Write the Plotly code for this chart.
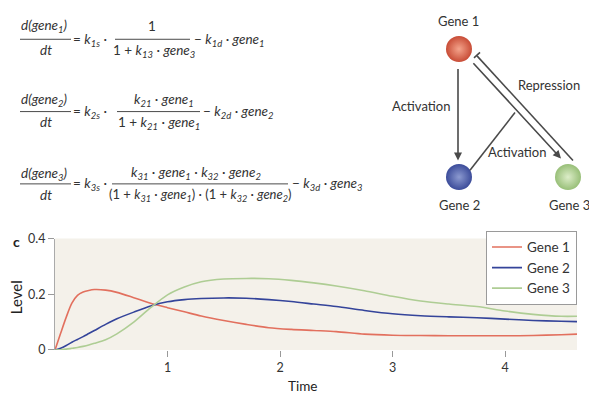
import plotly.graph_objects as go

# ---------------- data ----------------
time = [0, 0.05, 0.1, 0.15, 0.2, 0.25, 0.3, 0.35, 0.45, 0.55, 0.7, 0.85, 1.0, 1.15,
        1.3, 1.5, 1.7, 1.9, 2.1, 2.3, 2.5, 2.75, 3.0, 3.25, 3.5, 3.75, 4.0, 4.25, 4.5, 4.64]
gene1 = [0, 0.06, 0.118, 0.168, 0.196, 0.208, 0.214, 0.217, 0.215, 0.207, 0.188, 0.168,
         0.152, 0.137, 0.122, 0.106, 0.092, 0.080, 0.074, 0.070, 0.066, 0.057, 0.053,
         0.052, 0.051, 0.051, 0.051, 0.052, 0.055, 0.057]
gene2 = [0, 0.006, 0.016, 0.028, 0.038, 0.048, 0.059, 0.070, 0.092, 0.112, 0.136, 0.158,
         0.173, 0.181, 0.185, 0.187, 0.186, 0.181, 0.174, 0.165, 0.156, 0.142, 0.130,
         0.123, 0.119, 0.116, 0.111, 0.106, 0.103, 0.102]
gene3 = [0, 0.001, 0.003, 0.006, 0.009, 0.013, 0.018, 0.024, 0.037, 0.058, 0.100, 0.152,
         0.198, 0.226, 0.245, 0.255, 0.257, 0.256, 0.250, 0.241, 0.230, 0.213, 0.193,
         0.176, 0.165, 0.156, 0.140, 0.128, 0.121, 0.121]
series_names = ["Gene 1", "Gene 2", "Gene 3"]
series_colors = ["#e2705e", "#34449a", "#aecd94"]
x_ticks = [1, 2, 3, 4]
y_ticks = [0, 0.2, 0.4]
y_ticktext = ["0", "0.2", "0.4"]

# diagram nodes (pixel layout of the schematic)
node_names = ["Gene 1", "Gene 2", "Gene 3"]
node_x = [459, 459, 568]
node_y = [42, 173, 173]
node_edge = ["#c84c36", "#3c4c9a", "#98bf78"]
node_core = ["#f4a48c", "#8c9ad0", "#dcedc8"]

FONT = "Lato"
TXT = "#333333"
LINE = "#4a4a4a"
W, H = 577, 350   # plot-area pixel size (margins l=0, t=0)
EQ = 13.5

fig = go.Figure()
for name, ys, col in zip(series_names, [gene1, gene2, gene3], series_colors):
    fig.add_trace(go.Scatter(x=time, y=ys, name=name, mode="lines",
                             line=dict(color=col, width=1.6, shape="spline", smoothing=0.8),
                             xaxis="x", yaxis="y"))

fig.add_trace(go.Scatter(x=node_x, y=node_y, mode="markers", showlegend=False,
                         hoverinfo="skip", xaxis="x2", yaxis="y2", cliponaxis=False,
                         marker=dict(size=26, color=node_edge,
                                     gradient=dict(type="radial", color=node_core),
                                     line=dict(width=0))))

annotations = []
shapes = []


def txt(s, x, y, anchor="center", size=EQ, color=TXT, **kw):
    annotations.append(dict(text=s, x=x, y=y, xref="x2", yref="y2", showarrow=False,
                            xanchor=anchor, yanchor="middle",
                            font=dict(family=FONT, size=size, color=color), **kw))


def hline(x0, x1, y, w=1):
    shapes.append(dict(type="line", xref="x2", yref="y2", x0=x0, x1=x1, y0=y, y1=y,
                       line=dict(color=LINE, width=w)))


def seg(x0, y0, x1, y1, w=1.6):
    shapes.append(dict(type="line", xref="x2", yref="y2", x0=x0, x1=x1, y0=y0, y1=y1,
                       line=dict(color=LINE, width=w)))


def arrow(x0, y0, x1, y1):
    annotations.append(dict(text="", x=x1, y=y1, ax=x0, ay=y0, xref="x2", yref="y2",
                            axref="x2", ayref="y2", showarrow=True, arrowhead=2,
                            arrowsize=1, arrowwidth=1.6, arrowcolor=LINE,
                            standoff=0, startstandoff=0))


# ---------------- equations ----------------
# eq 1
txt("<i>d(gene<sub>1</sub>)</i>", 44, 18)
hline(20, 71, 32)
txt("<i>dt</i>", 46, 43)
txt("= <i>k<sub>1s</sub></i> ·", 71, 33, anchor="left")
txt("1", 152, 18)
hline(115, 190, 32)
txt("1 + <i>k<sub>13</sub></i> · <i>gene<sub>3</sub></i>", 154, 44)
txt("− <i>k<sub>1d</sub></i> · <i>gene<sub>1</sub></i>", 192, 33, anchor="left")
# eq 2
txt("<i>d(gene<sub>2</sub>)</i>", 44, 94)
hline(20, 71, 106)
txt("<i>dt</i>", 46, 117)
txt("= <i>k<sub>2s</sub></i> ·", 71, 106, anchor="left")
txt("<i>k<sub>21</sub></i> · <i>gene<sub>1</sub></i>", 164, 94)
hline(117, 200, 106)
txt("1 + <i>k<sub>21</sub></i> · <i>gene<sub>1</sub></i>", 159, 118)
txt("− <i>k<sub>2d</sub></i> · <i>gene<sub>2</sub></i>", 201, 106, anchor="left")
# eq 3
txt("<i>d(gene<sub>3</sub>)</i>", 44, 170)
hline(20, 71, 180)
txt("<i>dt</i>", 46, 191)
txt("= <i>k<sub>3s</sub></i> ·", 71, 180, anchor="left")
txt("<i>k<sub>31</sub></i> · <i>gene<sub>1</sub></i> · <i>k<sub>32</sub></i> · <i>gene<sub>2</sub></i>",
    196, 169)
hline(112, 288, 180)
txt("(1 + <i>k<sub>31</sub></i> · <i>gene<sub>1</sub></i>) · (1 + <i>k<sub>32</sub></i> · <i>gene<sub>2</sub></i>)",
    200, 191, size=13)
txt("− <i>k<sub>3d</sub></i> · <i>gene<sub>3</sub></i>", 290, 180, anchor="left")

# ---------------- network diagram ----------------
txt("Gene 1", 458, 13, size=13)
txt("Gene 2", 459, 202, size=13)
txt("Gene 3", 569, 202, size=13)
txt("Activation", 421, 100, size=13)
txt("Repression", 549, 79, size=13)
txt("Activation", 517, 147, size=13)
arrow(458, 61, 458, 156)          # gene1 -> gene2
arrow(472, 55, 561, 154)          # gene1 -> gene3
seg(573, 156, 477, 49)            # repression gene3 -| gene1
seg(474, 51, 480, 45.5)           # T-bar
seg(470, 166, 515, 107)           # gene2 activation of the gene1->gene3 link

# ---------------- chart labels ----------------
txt("<b>c</b>", 16, 239, size=14, color="#222")
txt("Level", 16, 296, size=15, color="#222", textangle=-90)
annotations.append(dict(text="Time", x=302, y=(H - 387) / H, xref="x2", yref="paper",
                        showarrow=False, xanchor="center", yanchor="middle",
                        font=dict(family=FONT, size=13.5, color="#222")))

# plot background (beige) of the chart panel
shapes.append(dict(type="rect", xref="x domain", yref="y domain", x0=0, x1=1, y0=0, y1=1,
                   fillcolor="#f4f1ea", line=dict(width=0), layer="below"))

fig.update_layout(
    width=589, height=395,
    margin=dict(l=0, r=12, t=0, b=45, pad=0),
    paper_bgcolor="white", plot_bgcolor="rgba(0,0,0,0)",
    font=dict(family=FONT, size=12, color=TXT),
    showlegend=True,
    legend=dict(x=1, xanchor="right", y=(H - 228) / H, yanchor="top",
                bgcolor="white", bordercolor="#9a9a9a", borderwidth=1,
                font=dict(family=FONT, size=13.5, color=TXT),
                tracegroupgap=0, itemwidth=30),
    xaxis=dict(domain=[55 / W, 1], range=[0, 4.64], tickvals=x_ticks,
               ticks="outside", ticklen=6, tickcolor="#999", tickwidth=1,
               showline=False, showgrid=False, zeroline=False, anchor="y",
               tickfont=dict(family=FONT, size=12.5, color=TXT)),
    yaxis=dict(domain=[0, 114 / H], range=[0, 0.4], tickvals=y_ticks, ticktext=y_ticktext,
               ticks="outside", ticklen=6, tickcolor="#999", tickwidth=1,
               showline=True, linecolor="#aaa", linewidth=1,
               showgrid=False, zeroline=False, anchor="x",
               tickfont=dict(family=FONT, size=12.5, color=TXT)),
    xaxis2=dict(domain=[0, 1], range=[0, W], visible=False, anchor="y2", fixedrange=True),
    yaxis2=dict(domain=[0, 1], range=[H, 0], visible=False, anchor="x2", fixedrange=True),
    annotations=annotations,
    shapes=shapes,
)

fig.write_html("out.html", config={"displayModeBar": False},
               post_script="document.body.style.margin='0px';")
